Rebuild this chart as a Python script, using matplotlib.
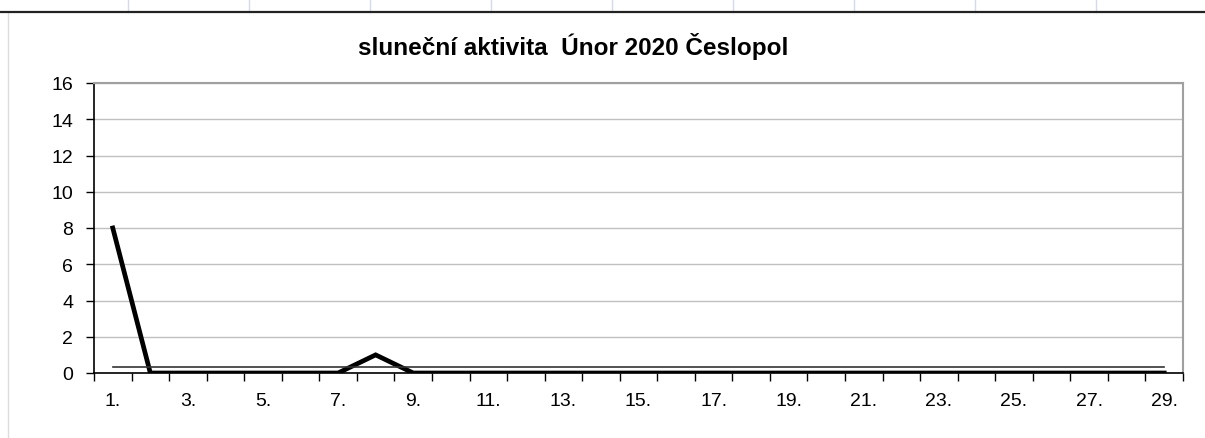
import matplotlib.pyplot as plt
from matplotlib.lines import Line2D

days = list(range(1, 30))
activity = [8, 0, 0, 0, 0, 0, 0, 1, 0, 0,
            0, 0, 0, 0, 0, 0, 0, 0, 0, 0,
            0, 0, 0, 0, 0, 0, 0, 0, 0]
average = 0.31
day_labels = [f"{d}." for d in days[::2]]
y_ticks = list(range(0, 17, 2))

plt.rcParams['font.family'] = ['Liberation Sans', 'DejaVu Sans']

W, H = 1205, 439
fig = plt.figure(figsize=(W / 100, H / 100), dpi=100)

# spreadsheet background: cell lines and heading border
for x in [128, 249, 370, 491, 612, 733, 854, 975, 1096]:
    fig.add_artist(Line2D([x / W, x / W], [1, 1 - 13 / H], color="#d4dbe8", lw=1))
fig.add_artist(Line2D([8 / W, 8 / W], [0, 1 - 13 / H], color="#dcdcdc", lw=1))
fig.add_artist(Line2D([0, 1], [1 - 13 / H, 1 - 13 / H], color="#222222", lw=1.6))

left, right, top, bottom = 94, 1183, 84, 374
ax = fig.add_axes([left / W, 1 - bottom / H, (right - left) / W, (bottom - top) / H])

ax.plot(days, activity, color="black", lw=3.4, solid_joinstyle="miter")
ax.plot([days[0], days[-1]], [average, average], color="#333333", lw=1.2)

ax.set_xlim(0.5, 29.5)
ax.set_ylim(0, 16)
ax.set_yticks(y_ticks)
ax.set_yticklabels([str(v) for v in y_ticks], fontsize=14)
ax.set_xticks([d - 0.5 for d in days] + [29.5])
ax.set_xticklabels([])
ax.set_xticks(days[::2], minor=True)
ax.set_xticklabels(day_labels, minor=True, fontsize=14)
ax.tick_params(axis="x", which="major", length=6, direction="out", width=1)
ax.tick_params(axis="x", which="minor", length=0, pad=14)
ax.tick_params(axis="y", length=6, direction="out", width=1, pad=9)

ax.grid(axis="y", color="#c0c0c0", lw=1)
ax.set_axisbelow(True)
for side in ["left", "bottom"]:
    ax.spines[side].set_color("black")
    ax.spines[side].set_linewidth(1.2)
for side in ["top", "right"]:
    ax.spines[side].set_color("#a0a0a0")
    ax.spines[side].set_linewidth(1.5)

fig.text(573 / W, 1 - 47 / H, "sluneční aktivita  Únor 2020 Česlopol",
         ha="center", va="center", fontsize=17.5, fontweight="bold")

fig.savefig("out.png", dpi=100)
